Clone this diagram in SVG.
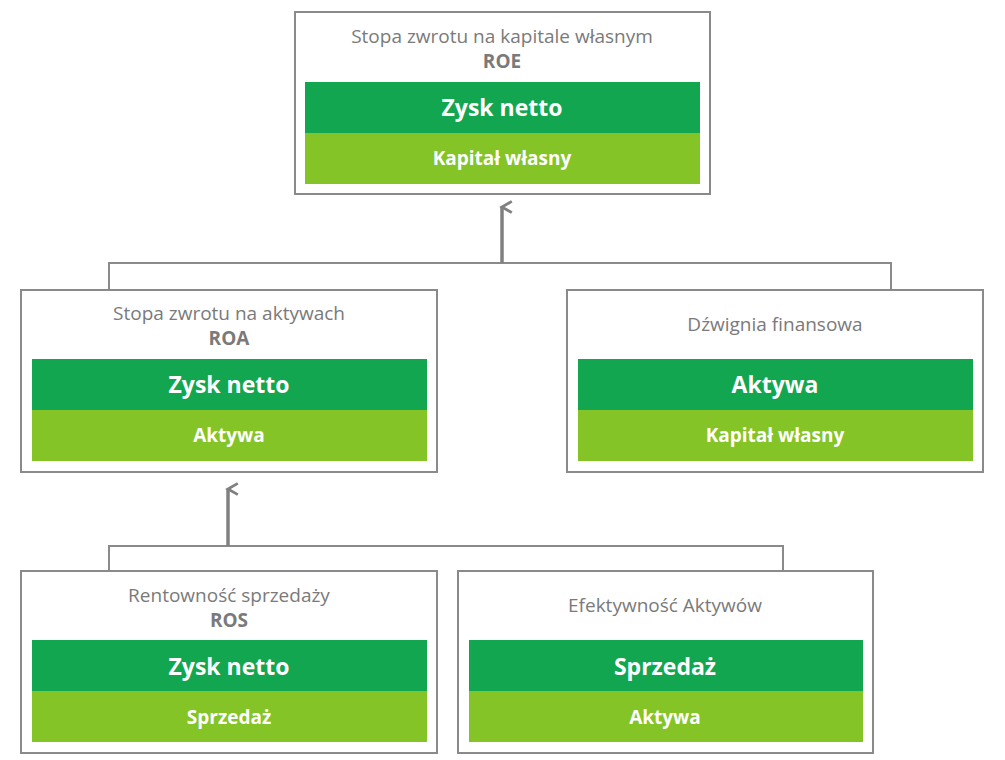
<svg xmlns="http://www.w3.org/2000/svg" width="1005" height="760" viewBox="0 0 1005 760">
<style>
.box{fill:#fff;stroke:#8a8a8a;stroke-width:2}
.dk{fill:#12a650}
.lt{fill:#84c426}
.t{font-family:"Open Sans","Liberation Sans",sans-serif;font-size:19px;fill:#7a7a7a;text-anchor:middle}
.tb{font-family:"Open Sans","Liberation Sans",sans-serif;font-size:19px;fill:#7a7a7a;text-anchor:middle;font-weight:bold}
.w1{font-family:"Open Sans","Liberation Sans",sans-serif;font-size:23px;fill:#fff;text-anchor:middle;font-weight:bold}
.w2{font-family:"Open Sans","Liberation Sans",sans-serif;font-size:19px;fill:#fff;text-anchor:middle;font-weight:bold}
.ln{fill:none;stroke:#8a8a8a;stroke-width:2}
.ar{fill:none;stroke:#808080;stroke-width:3.5}
</style>
<defs><marker id="a" viewBox="0 0 10 10" refX="5" refY="2" markerWidth="4" markerHeight="4" orient="auto-start-reverse" markerUnits="strokeWidth"><path d="M1,9 L5,2 L9,9" fill="none" stroke="#808080" stroke-width="2"/></marker></defs>
<g id="connectors">
<path class="ln" d="M109,290 V263 H891 V290"/>
<path class="ar" d="M502,263 V207" marker-end="url(#a)"/>
<path class="ln" d="M109,571 V546 H783 V571"/>
<path class="ar" d="M228,546 V489" marker-end="url(#a)"/>
</g>
<g id="roe">
<rect class="box" x="295" y="12" width="415" height="182"/>
<text class="t" x="502" y="43">Stopa zwrotu na kapitale własnym</text>
<text class="tb" x="502" y="68">ROE</text>
<rect class="dk" x="305" y="82" width="395" height="51"/>
<rect class="lt" x="305" y="133" width="395" height="51"/>
<text class="w1" x="502" y="116">Zysk netto</text>
<text class="w2" x="502" y="165">Kapitał własny</text>
</g>
<g id="roa">
<rect class="box" x="21" y="290" width="416" height="182"/>
<text class="t" x="229" y="320">Stopa zwrotu na aktywach</text>
<text class="tb" x="229" y="345">ROA</text>
<rect class="dk" x="32" y="359" width="395" height="51"/>
<rect class="lt" x="32" y="410" width="395" height="51"/>
<text class="w1" x="229" y="393">Zysk netto</text>
<text class="w2" x="229" y="442">Aktywa</text>
</g>
<g id="dzwignia">
<rect class="box" x="567" y="290" width="416" height="182"/>
<text class="t" x="775" y="331">Dźwignia finansowa</text>
<rect class="dk" x="578" y="359" width="395" height="51"/>
<rect class="lt" x="578" y="410" width="395" height="51"/>
<text class="w1" x="775" y="393">Aktywa</text>
<text class="w2" x="775" y="442">Kapitał własny</text>
</g>
<g id="ros">
<rect class="box" x="21" y="571" width="416" height="182"/>
<text class="t" x="229" y="602">Rentowność sprzedaży</text>
<text class="tb" x="229" y="627">ROS</text>
<rect class="dk" x="32" y="640" width="395" height="51"/>
<rect class="lt" x="32" y="691" width="395" height="51"/>
<text class="w1" x="229" y="675">Zysk netto</text>
<text class="w2" x="229" y="724">Sprzedaż</text>
</g>
<g id="efektywnosc">
<rect class="box" x="458" y="571" width="415" height="182"/>
<text class="t" x="665" y="612">Efektywność Aktywów</text>
<rect class="dk" x="469" y="640" width="394" height="51"/>
<rect class="lt" x="469" y="691" width="394" height="51"/>
<text class="w1" x="665" y="675">Sprzedaż</text>
<text class="w2" x="665" y="724">Aktywa</text>
</g>
</svg>
